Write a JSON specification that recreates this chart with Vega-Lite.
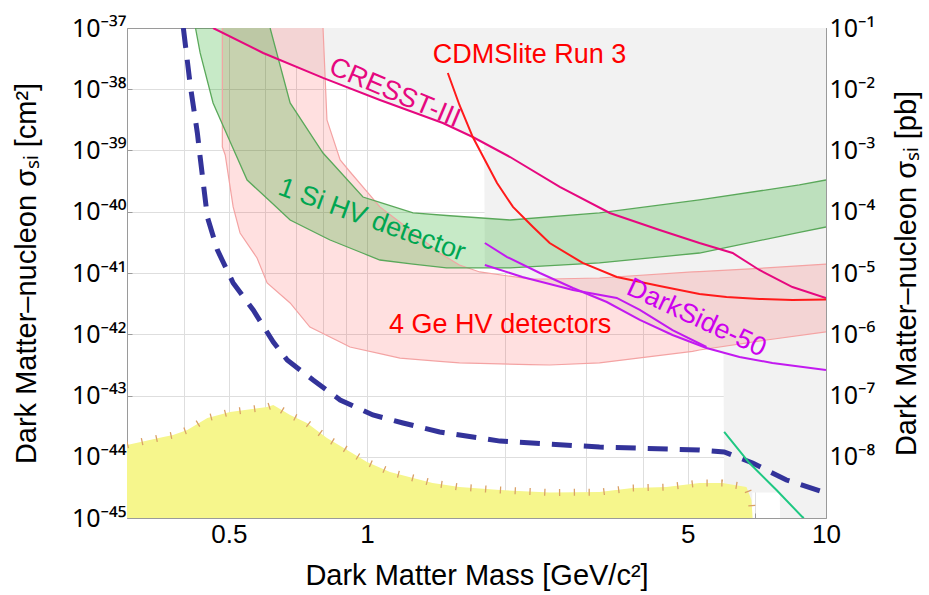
{
  "$schema": "https://vega.github.io/schema/vega-lite/v6.json",
  "width": 699,
  "height": 490,
  "autosize": {"type": "none"},
  "padding": {"left": 127, "top": 28, "right": 103, "bottom": 77},
  "background": "white",
  "config": {
    "view": {"stroke": null},
    "font": "Liberation Sans, Noto Sans",
    "axis": {"labelColor": "black", "titleColor": "black", "titleFontWeight": "normal", "domainColor": "#9a9a9a", "tickColor": "#9a9a9a", "gridColor": "#dedede", "labelFlush": false, "labelOverlap": false, "labelBound": false, "labelFont": "Liberation Sans, Noto Sans", "titleFont": "Liberation Sans, Noto Sans"}
  },
  "datasets": {
    "gray": [
      {"x": 0.462, "y": 1e-37}, {"x": 0.594, "y": 3.91e-38}, {"x": 0.802, "y": 1.53e-38}, {"x": 1.067, "y": 6.67e-39},
      {"x": 1.463, "y": 2.81e-39}, {"x": 1.70, "y": 1.66e-39}, {"x": 1.80, "y": 1.33e-39}, {"x": 1.806, "y": 1.35e-41},
      {"x": 2.18, "y": 8.6e-42}, {"x": 2.81, "y": 5.27e-42}, {"x": 3.33, "y": 3.36e-42}, {"x": 3.93, "y": 1.71e-42},
      {"x": 4.63, "y": 9.73e-43}, {"x": 5.49, "y": 5.97e-43}, {"x": 5.98, "y": 5.0e-43}, {"x": 6.0, "y": 1e-45},
      {"x": 6.9, "y": 1e-45}, {"x": 6.91, "y": 2.6e-45}, {"x": 7.93, "y": 2.6e-45}, {"x": 7.94, "y": 1e-45}, {"x": 10, "y": 1e-45}
    ],
    "yellow": [
      {"x": 0.300, "y": 1.56e-44}, {"x": 0.360, "y": 2.1e-44}, {"x": 0.378, "y": 2.26e-44}, {"x": 0.406, "y": 2.73e-44},
      {"x": 0.449, "y": 4.3e-44}, {"x": 0.503, "y": 5.37e-44}, {"x": 0.606, "y": 6.49e-44}, {"x": 0.625, "y": 7.0e-44},
      {"x": 0.680, "y": 4.81e-44}, {"x": 0.740, "y": 3.56e-44}, {"x": 0.818, "y": 2.02e-44}, {"x": 0.905, "y": 1.29e-44},
      {"x": 1.0, "y": 8.2e-45}, {"x": 1.122, "y": 5.64e-45}, {"x": 1.26, "y": 4.5e-45}, {"x": 1.39, "y": 3.73e-45},
      {"x": 1.59, "y": 3.2e-45}, {"x": 1.95, "y": 2.86e-45}, {"x": 2.5, "y": 2.6e-45}, {"x": 3.21, "y": 2.65e-45},
      {"x": 3.79, "y": 3.09e-45}, {"x": 4.49, "y": 3.2e-45}, {"x": 5.30, "y": 3.73e-45}, {"x": 5.95, "y": 3.73e-45},
      {"x": 6.71, "y": 3.2e-45}, {"x": 6.88, "y": 1.97e-45}, {"x": 6.92, "y": 1.0e-45}
    ],
    "greenBand": [
      {"x": 0.423, "y": 1e-37, "y2": 1e-37}, {"x": 0.433, "y": 1e-37, "y2": 3.91e-38}, {"x": 0.462, "y": 1e-37, "y2": 5.97e-39},
      {"x": 0.503, "y": 1e-37, "y2": 1.40e-39}, {"x": 0.548, "y": 1e-37, "y2": 3.30e-40}, {"x": 0.615, "y": 1e-37, "y2": 1.48e-40},
      {"x": 0.680, "y": 5.97e-39, "y2": 7.33e-41}, {"x": 0.802, "y": 9.1e-40, "y2": 3.94e-41}, {"x": 0.831, "y": 6.8e-40, "y2": 3.46e-41},
      {"x": 0.980, "y": 1.74e-40, "y2": 2.10e-41}, {"x": 1.067, "y": 1.42e-40, "y2": 1.63e-41}, {"x": 1.26, "y": 9.55e-41, "y2": 1.40e-41},
      {"x": 1.49, "y": 8.69e-41, "y2": 1.208e-41}, {"x": 2.05, "y": 7.33e-41, "y2": 1.208e-41}, {"x": 3.21, "y": 9.55e-41, "y2": 1.46e-41},
      {"x": 5.30, "y": 1.56e-40, "y2": 2.12e-41}, {"x": 8.75, "y": 2.74e-40, "y2": 4.60e-41}, {"x": 10, "y": 3.30e-40, "y2": 5.64e-41}
    ],
    "greenHi": [
      {"x": 0.615, "y": 1e-37}, {"x": 0.680, "y": 5.97e-39}, {"x": 0.802, "y": 9.1e-40}, {"x": 0.831, "y": 6.8e-40},
      {"x": 0.980, "y": 1.74e-40}, {"x": 1.067, "y": 1.42e-40}, {"x": 1.26, "y": 9.55e-41}, {"x": 1.49, "y": 8.69e-41},
      {"x": 2.05, "y": 7.33e-41}, {"x": 3.21, "y": 9.55e-41}, {"x": 5.30, "y": 1.56e-40}, {"x": 8.75, "y": 2.74e-40}, {"x": 10, "y": 3.30e-40}
    ],
    "greenLo": [
      {"x": 0.423, "y": 1e-37}, {"x": 0.433, "y": 3.91e-38}, {"x": 0.462, "y": 5.97e-39}, {"x": 0.503, "y": 1.40e-39},
      {"x": 0.548, "y": 3.30e-40}, {"x": 0.615, "y": 1.48e-40}, {"x": 0.680, "y": 7.33e-41}, {"x": 0.802, "y": 3.94e-41},
      {"x": 0.831, "y": 3.46e-41}, {"x": 0.980, "y": 2.10e-41}, {"x": 1.067, "y": 1.63e-41}, {"x": 1.26, "y": 1.40e-41},
      {"x": 1.49, "y": 1.208e-41}, {"x": 2.05, "y": 1.208e-41}, {"x": 3.21, "y": 1.46e-41}, {"x": 5.30, "y": 2.12e-41},
      {"x": 8.75, "y": 4.60e-41}, {"x": 10, "y": 5.64e-41}
    ],
    "pinkBand": [
      {"x": 0.484, "y": 1e-37, "y2": 1.14e-39}, {"x": 0.491, "y": 1e-37, "y2": 8.45e-40}, {"x": 0.511, "y": 1e-37, "y2": 1.20e-40},
      {"x": 0.529, "y": 1e-37, "y2": 4.50e-41}, {"x": 0.576, "y": 1e-37, "y2": 1.76e-41}, {"x": 0.606, "y": 1e-37, "y2": 6.87e-42},
      {"x": 0.680, "y": 1e-37, "y2": 3.24e-42}, {"x": 0.751, "y": 1e-37, "y2": 1.31e-42}, {"x": 0.802, "y": 1e-37, "y2": 1.03e-42},
      {"x": 0.818, "y": 3.15e-39, "y2": 9.54e-43}, {"x": 0.874, "y": 7.0e-40, "y2": 7.46e-43}, {"x": 0.918, "y": 4.50e-40, "y2": 6.19e-43},
      {"x": 1.067, "y": 1.20e-40, "y2": 4.83e-43}, {"x": 1.18, "y": 6.73e-41, "y2": 4.09e-43}, {"x": 1.44, "y": 2.12e-41, "y2": 3.61e-43},
      {"x": 1.59, "y": 1.35e-41, "y2": 3.40e-43}, {"x": 1.76, "y": 1.04e-41, "y2": 3.34e-43}, {"x": 2.26, "y": 7.98e-42, "y2": 3.19e-43},
      {"x": 2.50, "y": 7.98e-42, "y2": 3.15e-43}, {"x": 3.21, "y": 8.28e-42, "y2": 3.40e-43}, {"x": 5.12, "y": 1.04e-41, "y2": 5.27e-43},
      {"x": 5.30, "y": 1.05e-41, "y2": 5.53e-43}, {"x": 7.42, "y": 1.208e-41, "y2": 8.05e-43}, {"x": 10, "y": 1.40e-41, "y2": 1.09e-42}
    ],
    "pinkHi": [
      {"x": 0.802, "y": 1e-37}, {"x": 0.818, "y": 3.15e-39}, {"x": 0.874, "y": 7.0e-40}, {"x": 0.918, "y": 4.50e-40},
      {"x": 1.067, "y": 1.20e-40}, {"x": 1.18, "y": 6.73e-41}, {"x": 1.44, "y": 2.12e-41}, {"x": 1.59, "y": 1.35e-41},
      {"x": 1.76, "y": 1.04e-41}, {"x": 2.26, "y": 7.98e-42}, {"x": 2.50, "y": 7.98e-42}, {"x": 3.21, "y": 8.28e-42},
      {"x": 5.12, "y": 1.04e-41}, {"x": 5.30, "y": 1.05e-41}, {"x": 7.42, "y": 1.208e-41}, {"x": 10, "y": 1.40e-41}
    ],
    "pinkLo": [
      {"x": 0.4839, "y": 1e-37}, {"x": 0.484, "y": 1.14e-39}, {"x": 0.491, "y": 8.45e-40}, {"x": 0.511, "y": 1.20e-40},
      {"x": 0.529, "y": 4.50e-41}, {"x": 0.576, "y": 1.76e-41}, {"x": 0.606, "y": 6.87e-42}, {"x": 0.680, "y": 3.24e-42},
      {"x": 0.751, "y": 1.31e-42}, {"x": 0.802, "y": 1.03e-42}, {"x": 0.818, "y": 9.54e-43}, {"x": 0.874, "y": 7.46e-43},
      {"x": 0.918, "y": 6.19e-43}, {"x": 1.067, "y": 4.83e-43}, {"x": 1.18, "y": 4.09e-43}, {"x": 1.44, "y": 3.61e-43},
      {"x": 1.59, "y": 3.40e-43}, {"x": 1.76, "y": 3.34e-43}, {"x": 2.26, "y": 3.19e-43}, {"x": 2.50, "y": 3.15e-43},
      {"x": 3.21, "y": 3.40e-43}, {"x": 5.12, "y": 5.27e-43}, {"x": 5.30, "y": 5.53e-43}, {"x": 7.42, "y": 8.05e-43}, {"x": 10, "y": 1.09e-42}
    ],
    "dashed": [
      {"x": 0.398, "y": 1e-37}, {"x": 0.412, "y": 1.17e-38}, {"x": 0.427, "y": 1.93e-39}, {"x": 0.433, "y": 7.8e-40},
      {"x": 0.449, "y": 8.2e-41}, {"x": 0.472, "y": 2.38e-41}, {"x": 0.511, "y": 6.87e-42}, {"x": 0.565, "y": 2.49e-42},
      {"x": 0.625, "y": 7.46e-43}, {"x": 0.670, "y": 3.8e-43}, {"x": 0.763, "y": 1.79e-43}, {"x": 0.874, "y": 8.45e-44},
      {"x": 1.03, "y": 4.81e-44}, {"x": 1.198, "y": 3.56e-44}, {"x": 1.44, "y": 2.54e-44}, {"x": 1.95, "y": 1.8e-44},
      {"x": 3.21, "y": 1.44e-44}, {"x": 5.30, "y": 1.29e-44}, {"x": 6.0, "y": 1.2e-44}, {"x": 6.92, "y": 7.9e-45},
      {"x": 8.2, "y": 4.17e-45}, {"x": 10, "y": 2.56e-45}
    ],
    "cresst": [
      {"x": 0.462, "y": 1e-37}, {"x": 0.594, "y": 3.91e-38}, {"x": 0.802, "y": 1.53e-38}, {"x": 1.067, "y": 6.67e-39},
      {"x": 1.463, "y": 2.81e-39}, {"x": 1.70, "y": 1.66e-39}, {"x": 2.05, "y": 7.83e-40}, {"x": 2.63, "y": 2.54e-40},
      {"x": 3.38, "y": 9.55e-41}, {"x": 4.34, "y": 5.04e-41}, {"x": 5.30, "y": 3.09e-41}, {"x": 6.26, "y": 2.12e-41},
      {"x": 7.16, "y": 1.12e-41}, {"x": 8.45, "y": 5.9e-42}, {"x": 10, "y": 3.91e-42}
    ],
    "cdms": [
      {"x": 1.50, "y": 1.84e-38}, {"x": 1.59, "y": 5.53e-39}, {"x": 1.70, "y": 1.66e-39}, {"x": 1.92, "y": 2.94e-40},
      {"x": 2.08, "y": 1.2e-40}, {"x": 2.30, "y": 5.64e-41}, {"x": 2.50, "y": 3.09e-41}, {"x": 2.95, "y": 1.46e-41},
      {"x": 3.50, "y": 8.6e-42}, {"x": 4.34, "y": 6.14e-42}, {"x": 5.30, "y": 4.54e-42}, {"x": 6.07, "y": 4.06e-42},
      {"x": 7.16, "y": 3.77e-42}, {"x": 8.45, "y": 3.62e-42}, {"x": 10, "y": 3.7e-42}
    ],
    "darksideA": [
      {"x": 1.806, "y": 3.09e-41}, {"x": 2.02, "y": 1.82e-41}, {"x": 2.38, "y": 1e-41}, {"x": 2.81, "y": 5.69e-42},
      {"x": 3.33, "y": 3.36e-42}, {"x": 3.93, "y": 1.71e-42}, {"x": 4.63, "y": 9.73e-43}, {"x": 5.49, "y": 5.97e-43},
      {"x": 6.48, "y": 4.26e-43}, {"x": 7.64, "y": 3.4e-43}, {"x": 10, "y": 2.61e-43}
    ],
    "darksideB": [
      {"x": 1.806, "y": 1.35e-41}, {"x": 2.18, "y": 8.6e-42}, {"x": 2.81, "y": 5.27e-42}, {"x": 3.50, "y": 3.91e-42},
      {"x": 3.93, "y": 2.49e-42}, {"x": 4.63, "y": 1.17e-42}, {"x": 5.49, "y": 6.19e-43}
    ],
    "xenon": [
      {"x": 6.0, "y": 2.54e-44}, {"x": 6.81, "y": 7.9e-45}, {"x": 7.80, "y": 2.86e-45}, {"x": 8.88, "y": 1.04e-45}, {"x": 8.95, "y": 1e-45}
    ],
    "labels": [
      {"label": "CDMSlite Run 3", "x": 2.26, "y": 3.62e-38},
      {"label": "CRESST-III", "x": 1.15, "y": 8.69e-39},
      {"label": "1 Si HV detector", "x": 1.025, "y": 7.33e-41},
      {"label": "4 Ge HV detectors", "x": 1.95, "y": 1.42e-42},
      {"label": "DarkSide-50", "x": 5.22, "y": 1.84e-42}
    ],
    "axisdummy": [{"x": 1, "y": 1e-40}]
  },
  "layer": [
    {
      "encoding": {
        "x": {
          "field": "x", "type": "quantitative",
          "scale": {"type": "log", "domain": [0.3, 10], "nice": false, "zero": false},
          "axis": {
            "orient": "bottom", "values": [0.4, 0.5, 0.6, 0.7, 0.8, 0.9, 1, 2, 3, 4, 5, 6, 7, 8, 9, 10],
            "labelExpr": "indexof([0.5, 1, 5, 10], datum.value) >= 0 ? datum.value + '' : ''",
            "labelFontSize": 26, "labelPadding": 8, "tickSize": -5, "grid": true,
            "title": "Dark Matter Mass [GeV/c²]", "titleFontSize": 29, "titlePadding": 14
          }
        },
        "y": {
          "field": "y", "type": "quantitative",
          "scale": {"type": "log", "domain": [1e-45, 1e-37], "nice": false, "zero": false},
          "axis": {
            "orient": "left", "values": [1e-45, 1e-44, 1e-43, 1e-42, 1e-41, 1e-40, 1e-39, 1e-38, 1e-37],
            "labelExpr": "'10⁻' + ['⁰','¹','²','³','⁴','⁵','⁶','⁷','⁸','⁹'][floor(-round(log(datum.value)/LN10)/10)] + ['⁰','¹','²','³','⁴','⁵','⁶','⁷','⁸','⁹'][(-round(log(datum.value)/LN10)) % 10]",
            "labelFont": "Noto Sans",
            "labelFontSize": 25, "labelPadding": 6, "tickSize": -5, "grid": true,
            "title": "Dark Matter–nucleon σₛᵢ [cm²]", "titleFontSize": 29, "titlePadding": 30
          }
        }
      },
      "layer": [
        {"data": {"name": "gray"}, "mark": {"type": "area", "color": "#f2f2f2", "clip": true}, "encoding": {"y2": {"datum": 1e-37}}},
        {"data": {"name": "yellow"}, "mark": {"type": "area", "color": "#f6f68c", "clip": true}, "encoding": {"y2": {"datum": 1e-45}}},
        {"data": {"name": "yellow"}, "mark": {"type": "line", "color": "#d9a066", "strokeWidth": 7, "strokeDash": [1.3, 13.5], "strokeCap": "butt", "clip": true}, "encoding": {}},
        {"data": {"name": "pinkBand"}, "mark": {"type": "area", "color": "#ff0000", "opacity": 0.12, "clip": true}, "encoding": {"y2": {"field": "y2"}}},
        {"data": {"name": "greenBand"}, "mark": {"type": "area", "color": "#00a000", "opacity": 0.22, "clip": true}, "encoding": {"y2": {"field": "y2"}}},
        {"data": {"name": "pinkHi"}, "mark": {"type": "line", "color": "#f4a3a3", "strokeWidth": 1.2, "clip": true}, "encoding": {}},
        {"data": {"name": "pinkLo"}, "mark": {"type": "line", "color": "#f4a3a3", "strokeWidth": 1.2, "clip": true}, "encoding": {}},
        {"data": {"name": "greenHi"}, "mark": {"type": "line", "color": "#5aa85a", "strokeWidth": 1.3, "clip": true}, "encoding": {}},
        {"data": {"name": "greenLo"}, "mark": {"type": "line", "color": "#5aa85a", "strokeWidth": 1.3, "clip": true}, "encoding": {}},
        {"data": {"name": "dashed"}, "mark": {"type": "line", "color": "#33339a", "strokeWidth": 5, "strokeDash": [20, 12], "clip": true}, "encoding": {}},
        {"data": {"name": "cresst"}, "mark": {"type": "line", "color": "#e6087f", "strokeWidth": 2, "clip": true}, "encoding": {}},
        {"data": {"name": "cdms"}, "mark": {"type": "line", "color": "#ff1a1a", "strokeWidth": 2, "clip": true}, "encoding": {}},
        {"data": {"name": "darksideA"}, "mark": {"type": "line", "color": "#c21af0", "strokeWidth": 2, "clip": true}, "encoding": {}},
        {"data": {"name": "darksideB"}, "mark": {"type": "line", "color": "#c21af0", "strokeWidth": 2, "clip": true}, "encoding": {}},
        {"data": {"name": "xenon"}, "mark": {"type": "line", "color": "#1ec882", "strokeWidth": 2, "clip": true}, "encoding": {}},
        {"data": {"name": "labels"}, "transform": [{"filter": "datum.label == 'CDMSlite Run 3'"}], "mark": {"type": "text", "color": "#ff0000", "fontSize": 27, "align": "center", "baseline": "middle"}, "encoding": {"text": {"field": "label"}}},
        {"data": {"name": "labels"}, "transform": [{"filter": "datum.label == 'CRESST-III'"}], "mark": {"type": "text", "color": "#e6087f", "fontSize": 27, "angle": 23, "align": "center", "baseline": "middle"}, "encoding": {"text": {"field": "label"}}},
        {"data": {"name": "labels"}, "transform": [{"filter": "datum.label == '1 Si HV detector'"}], "mark": {"type": "text", "color": "#00a651", "fontSize": 27, "angle": 20, "align": "center", "baseline": "middle"}, "encoding": {"text": {"field": "label"}}},
        {"data": {"name": "labels"}, "transform": [{"filter": "datum.label == '4 Ge HV detectors'"}], "mark": {"type": "text", "color": "#ff0000", "fontSize": 27, "align": "center", "baseline": "middle"}, "encoding": {"text": {"field": "label"}}},
        {"data": {"name": "labels"}, "transform": [{"filter": "datum.label == 'DarkSide-50'"}], "mark": {"type": "text", "color": "#cc00ee", "fontSize": 27, "angle": 25, "align": "center", "baseline": "middle"}, "encoding": {"text": {"field": "label"}}}
      ]
    },
    {
      "data": {"name": "axisdummy"},
      "mark": {"type": "point", "opacity": 0},
      "encoding": {
        "x": {
          "field": "x", "type": "quantitative",
          "scale": {"type": "log", "domain": [0.3, 10], "nice": false, "zero": false},
          "axis": {"orient": "top", "values": [0.4, 0.5, 0.6, 0.7, 0.8, 0.9, 1, 2, 3, 4, 5, 6, 7, 8, 9, 10], "labels": false, "tickSize": -5, "grid": false, "title": null}
        },
        "y": {
          "field": "y", "type": "quantitative",
          "scale": {"type": "log", "domain": [1e-45, 1e-37], "nice": false, "zero": false},
          "axis": {
            "orient": "right", "values": [1e-44, 1e-43, 1e-42, 1e-41, 1e-40, 1e-39, 1e-38, 1e-37],
            "labelExpr": "'10⁻' + ['⁰','¹','²','³','⁴','⁵','⁶','⁷','⁸','⁹'][-round(log(datum.value)/LN10) - 36]",
            "labelFont": "Noto Sans",
            "labelFontSize": 25, "labelPadding": 8, "tickSize": -5, "grid": false,
            "title": "Dark Matter–nucleon σₛᵢ [pb]", "titleFontSize": 29, "titlePadding": 18, "titleAngle": 270, "titleBaseline": "top"
          }
        }
      }
    }
  ],
  "resolve": {"axis": {"x": "independent", "y": "independent"}}
}
